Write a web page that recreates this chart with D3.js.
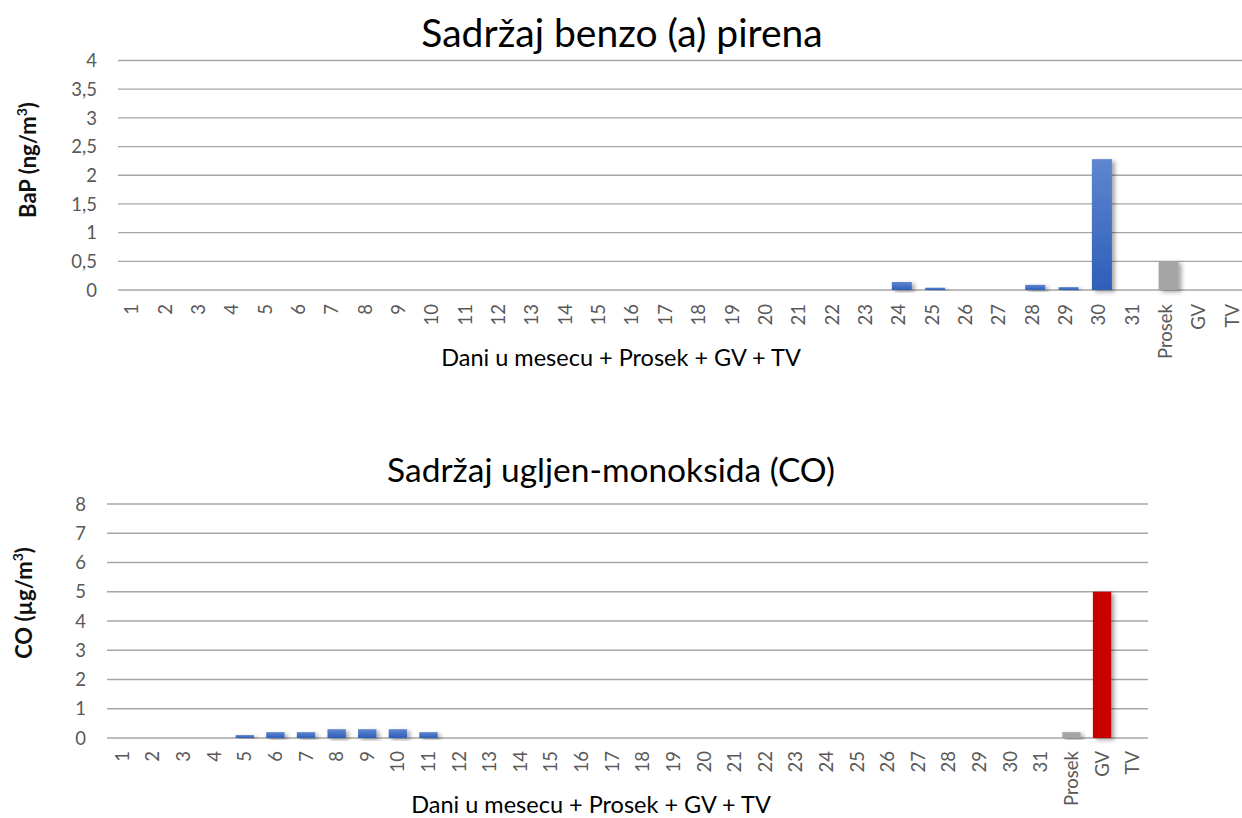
<!DOCTYPE html>
<html><head><meta charset="utf-8">
<script src="https://cdn.jsdelivr.net/npm/d3@7"></script>
<style>
html,body{margin:0;padding:0;background:#fff;}
svg{display:block;font-family:Lato,"Liberation Sans",sans-serif;}
</style></head><body>
<svg id="chart" width="1242" height="818"></svg>
<script>
const categories = ["1","2","3","4","5","6","7","8","9","10","11","12","13","14","15","16","17","18","19","20","21","22","23","24","25","26","27","28","29","30","31","Prosek","GV","TV"];
const bapValues = [0,0,0,0,0,0,0,0,0,0,0,0,0,0,0,0,0,0,0,0,0,0,0,0.14,0.04,0,0,0.09,0.05,2.28,0,0.5,0,0];
const bapTicks = [0,0.5,1,1.5,2,2.5,3,3.5,4];
const coValues = [0,0,0,0,0.1,0.2,0.2,0.3,0.3,0.3,0.2,0,0,0,0,0,0,0,0,0,0,0,0,0,0,0,0,0,0,0,0,0.2,5,0];
const coTicks = [0,1,2,3,4,5,6,7,8];

const svg = d3.select("#chart");
const defs = svg.append("defs");
const grad = defs.append("linearGradient").attr("id","blueGrad").attr("x1",0).attr("y1",0).attr("x2",0).attr("y2",1);
grad.append("stop").attr("offset","0%").attr("stop-color","#5f86cf");
grad.append("stop").attr("offset","100%").attr("stop-color","#2e5eb9");
const f = defs.append("filter").attr("id","shadow").attr("x","-30%").attr("y","-30%").attr("width","180%").attr("height","160%");
f.append("feDropShadow").attr("dx",3).attr("dy",2).attr("stdDeviation",2.2).attr("flood-color","#000").attr("flood-opacity",0.35);

function colorFor(cat){
  if(cat==="Prosek") return "#a5a5a5";
  if(cat==="GV") return "#c90000";
  return "url(#blueGrad)";
}

function drawChart(o){
  const g = svg.append("g");
  const x = d3.scaleBand().domain(categories).range([o.x0,o.x1]).paddingInner(0.4).paddingOuter(0.2);
  const y = d3.scaleLinear().domain([0,o.max]).range([o.yb,o.yt]);
  g.append("g").selectAll("line").data(o.ticks).join("line")
    .attr("x1",o.x0).attr("x2",o.gx1).attr("y1",d=>y(d)).attr("y2",d=>y(d))
    .attr("stroke","#a6a6a6").attr("stroke-width",1.3);
  g.append("g").selectAll("text").data(o.ticks).join("text")
    .attr("x",o.ylabX).attr("y",d=>y(d)).attr("dy","0.36em").attr("text-anchor","end")
    .attr("font-size",18.5).attr("fill","#595959").text(d=>String(d).replace(".",","));
  g.append("g").selectAll("rect").data(categories.map((c,i)=>({c,v:o.values[i]})).filter(d=>d.v>0)).join("rect")
    .attr("x",d=>x(d.c)).attr("width",x.bandwidth())
    .attr("y",d=>y(d.v)).attr("height",d=>y(0)-y(d.v))
    .attr("fill",d=>colorFor(d.c)).attr("filter","url(#shadow)");
  g.append("g").selectAll("text").data(categories).join("text")
    .attr("transform",d=>`translate(${x(d)+x.bandwidth()/2+o.labOff},${o.xlabY}) rotate(-90)`)
    .attr("text-anchor","end").attr("font-size",18.5).attr("fill","#595959").text(d=>d);
  g.append("text").attr("x",o.titleX).attr("y",o.titleY).attr("text-anchor","middle")
    .attr("font-size",o.titleSize).attr("fill","#000").text(o.title);
  g.append("text").attr("x",o.xtX).attr("y",o.xtY).attr("text-anchor","middle")
    .attr("font-size",23.5).attr("fill","#000").text("Dani u mesecu + Prosek + GV + TV");
  const yt = g.append("text").attr("transform",`translate(${o.ytX},${o.ytY}) rotate(-90)`)
    .attr("text-anchor","middle").attr("font-size",22).attr("font-weight","bold").attr("fill","#111");
  yt.append("tspan").text(o.ytText);
  yt.append("tspan").attr("font-size",14).attr("dy",-9).text("3");
  yt.append("tspan").attr("dy",9).text(")");
}

drawChart({x0:118,x1:1252,gx1:1242,yb:290,yt:60.5,max:4,ticks:bapTicks,values:bapValues,labOff:3.5,
  ylabX:97,xlabY:304,title:"Sadržaj benzo (a) pirena",titleX:622,titleY:47,titleSize:39,
  xtX:621,xtY:366,ytX:36,ytY:160,ytText:"BaP (ng/m"});
drawChart({x0:107,x1:1148,gx1:1148,yb:738,yt:504,max:8,ticks:coTicks,values:coValues,labOff:6.5,
  ylabX:86,xlabY:751,title:"Sadržaj ugljen-monoksida (CO)",titleX:611,titleY:482,titleSize:33.5,
  xtX:591,xtY:813,ytX:32,ytY:603,ytText:"CO  (µg/m"});
</script>
</body></html>
